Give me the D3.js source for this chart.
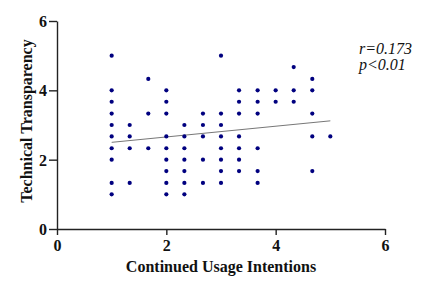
<!DOCTYPE html>
<html>
<head>
<meta charset="utf-8">
<script src="https://cdn.jsdelivr.net/npm/d3@7"></script>
<style>
  body { margin: 0; background: #fff; }
  svg text { font-family: "Liberation Serif", "Times New Roman", serif; }
</style>
</head>
<body>
<div id="chart"></div>
<script>
// x value of each column of dots and the y values found in it
const xColumns = [1, 1.33, 1.67, 2, 2.33, 2.67, 3, 3.33, 3.67, 4, 4.33, 4.67, 5];
const yColumns = [
  [5, 4, 3.67, 3.33, 3, 2.67, 2.33, 2, 1.33, 1],
  [3, 2.67, 2.33, 1.33],
  [4.33, 3.33, 2.33],
  [4, 3.67, 3.33, 2.67, 2.33, 2, 1.67, 1.33, 1],
  [3, 2.67, 2.33, 2, 1.67, 1.33, 1],
  [3.33, 3, 2.67, 2, 1.33],
  [5, 3.33, 3, 2.67, 2.33, 2, 1.67, 1.33],
  [4, 3.67, 3.33, 2.67, 2.33, 2, 1.67],
  [4, 3.67, 3.33, 2.33, 1.67, 1.33],
  [4, 3.67],
  [4.67, 4, 3.67],
  [4.33, 4, 3.33, 2.67, 1.67],
  [2.67]
];
// fitted line, end points
const fitX = [1, 5];
const fitY = [2.5, 3.12];
const xTicks = [0, 2, 4, 6];
const yTicks = [0, 2, 4, 6];
const notes = ["r=0.173", "p<0.01"];

const points = [];
xColumns.forEach((x, i) => yColumns[i].forEach(y => points.push({x: x, y: y})));

const margin = {top: 21, right: 49, bottom: 56, left: 57};
const W = 434, H = 285;
const width = W - margin.left - margin.right;
const height = H - margin.top - margin.bottom;

const svg = d3.select("#chart").append("svg")
  .attr("width", W)
  .attr("height", H);

const g = svg.append("g")
  .attr("transform", "translate(" + margin.left + "," + margin.top + ")");

const x = d3.scaleLinear().domain([0, 6]).range([0, width]);
const y = d3.scaleLinear().domain([0, 6]).range([height, 0]);

// trend line
g.append("line")
  .attr("x1", x(fitX[0])).attr("y1", y(fitY[0]))
  .attr("x2", x(fitX[1])).attr("y2", y(fitY[1]))
  .attr("stroke", "#777")
  .attr("stroke-width", 1);

g.selectAll("circle")
  .data(points)
  .enter().append("circle")
  .attr("cx", d => x(d.x))
  .attr("cy", d => y(d.y))
  .attr("r", 2.1)
  .attr("fill", "#00007f");

const xAxis = g.append("g")
  .attr("transform", "translate(0," + height + ")")
  .call(d3.axisBottom(x).tickValues(xTicks).tickFormat(d3.format("d")).tickSize(6).tickSizeOuter(0));

const yAxis = g.append("g")
  .call(d3.axisLeft(y).tickValues(yTicks).tickFormat(d3.format("d")).tickSize(8).tickSizeOuter(0));

[xAxis, yAxis].forEach(a => {
  a.select(".domain").attr("stroke", "#222").attr("stroke-width", 1.4);
  a.selectAll(".tick line").attr("stroke", "#222").attr("stroke-width", 1.4);
  a.selectAll("text")
    .attr("fill", "#111")
    .style("font-size", "16px")
    .style("font-weight", "bold");
});
xAxis.selectAll("text").attr("y", 9).attr("dy", "0.8em");
yAxis.selectAll("text").attr("x", -10).attr("dy", "0.34em");

g.append("text")
  .attr("x", width / 2)
  .attr("y", height + 43)
  .attr("text-anchor", "middle")
  .style("font-size", "16px")
  .style("font-weight", "bold")
  .attr("fill", "#111")
  .text("Continued Usage Intentions");

g.append("text")
  .attr("transform", "translate(-25," + (height / 2 - 4) + ") rotate(-90)")
  .attr("text-anchor", "middle")
  .style("font-size", "16px")
  .style("font-weight", "bold")
  .attr("fill", "#111")
  .text("Technical Transparency");

g.selectAll(".note")
  .data(notes)
  .enter().append("text")
  .attr("class", "note")
  .attr("x", 302)
  .attr("y", (d, i) => 33 + i * 16)
  .style("font-size", "16px")
  .style("font-style", "italic")
  .attr("fill", "#111")
  .text(d => d);
</script>
</body>
</html>
